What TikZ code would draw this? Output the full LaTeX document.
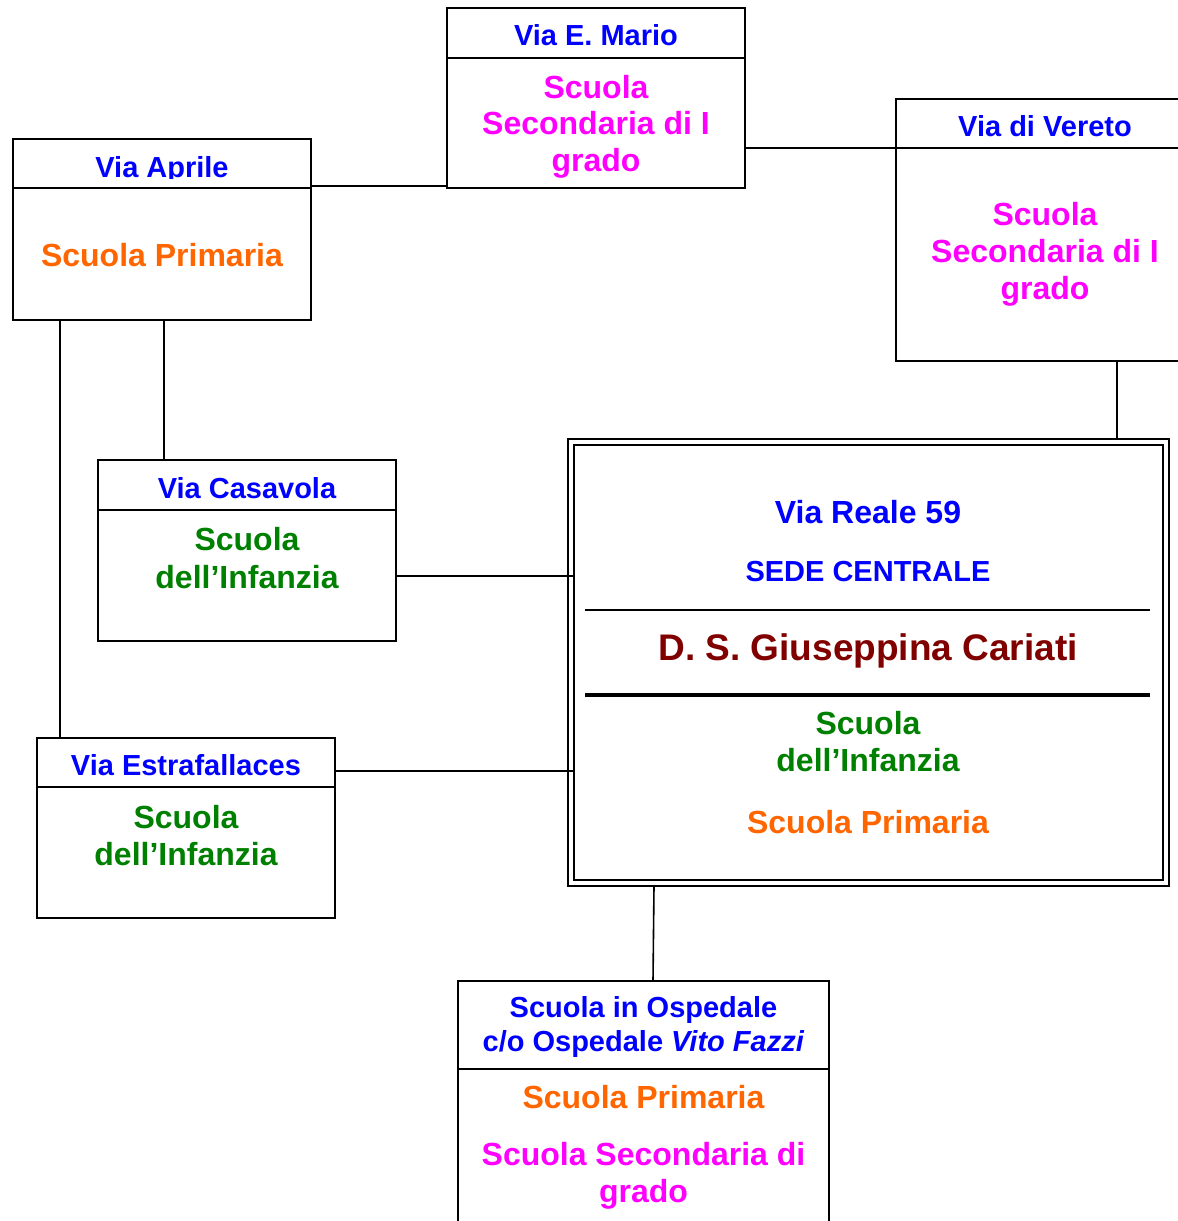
\documentclass[tikz,border=0pt]{standalone}
\usepackage{fontspec}
\setmainfont{Liberation Sans}
\definecolor{cblue}{RGB}{0,0,255}
\definecolor{cmag}{RGB}{255,0,255}
\definecolor{corange}{RGB}{255,102,0}
\definecolor{cgreen}{RGB}{0,128,0}
\definecolor{cdred}{RGB}{128,0,0}
\tikzset{
  bx/.style={draw=black, line width=1.8pt, inner sep=0pt, outer sep=0pt, anchor=north west, rectangle},
  hd/.style={anchor=base, inner sep=0pt, font=\bfseries\fontsize{29}{33}\selectfont, text=cblue},
  bd/.style={anchor=base, inner sep=0pt, font=\bfseries\fontsize{32}{37}\selectfont},
  conn/.style={line width=1.6pt},
}
\begin{document}
\begin{tikzpicture}[x=1pt,y=-1pt]
\useasboundingbox (0,0) rectangle (1178,1221);
\clip (0,0) rectangle (1178,1221);
\fill[white] (0,0) rectangle (1178,1221);

% Via E. Mario
\node[bx, minimum width=298pt, minimum height=50pt] (marioH) at (447,8) {};
\node[bx, minimum width=298pt, minimum height=130pt] (marioB) at (447,58) {};
\node[hd] (marioT) at (596,45) {Via E. Mario};
\node[bd, text=cmag] (marioL1) at (596,98) {Scuola};
\node[bd, text=cmag] (marioL2) at (596,134.5) {Secondaria di I};
\node[bd, text=cmag] (marioL3) at (596,171) {grado};

% Via Aprile
\node[bx, minimum width=298pt, minimum height=49pt] (aprileH) at (13,139) {};
\node[bx, minimum width=298pt, minimum height=132pt] (aprileB) at (13,188) {};
\begin{scope}
\clip (13,139) rectangle (311,178);
\node[hd] (aprileT) at (162,177) {Via Aprile};
\end{scope}
\node[bd, text=corange] (aprileL1) at (162,266) {Scuola Primaria};

% Via di Vereto
\node[bx, minimum width=298pt, minimum height=49pt] (veretoH) at (896,99) {};
\node[bx, minimum width=298pt, minimum height=213pt] (veretoB) at (896,148) {};
\node[hd] (veretoT) at (1045,136) {Via di Vereto};
\node[bd, text=cmag] (veretoL1) at (1045,225) {Scuola};
\node[bd, text=cmag] (veretoL2) at (1045,262) {Secondaria di I};
\node[bd, text=cmag] (veretoL3) at (1045,299) {grado};

% Via Casavola
\node[bx, minimum width=298pt, minimum height=50pt] (casaH) at (98,460) {};
\node[bx, minimum width=298pt, minimum height=131pt] (casaB) at (98,510) {};
\node[hd] (casaT) at (247,498) {Via Casavola};
\node[bd, text=cgreen] (casaL1) at (247,550) {Scuola};
\node[bd, text=cgreen] (casaL2) at (247,588) {dell’Infanzia};

% Via Estrafallaces
\node[bx, minimum width=298pt, minimum height=49pt] (estraH) at (37,738) {};
\node[bx, minimum width=298pt, minimum height=131pt] (estraB) at (37,787) {};
\node[hd] (estraT) at (186,775) {Via Estrafallaces};
\node[bd, text=cgreen] (estraL1) at (186,828) {Scuola};
\node[bd, text=cgreen] (estraL2) at (186,865) {dell’Infanzia};

% Central
\node[bx, line width=1.6pt, minimum width=601pt, minimum height=447pt] (centO) at (568,439) {};
\node[bx, line width=1.6pt, minimum width=589pt, minimum height=435pt] (centI) at (574,445) {};
\node[bd, text=cblue] (centL1) at (868,523) {Via Reale 59};
\node[hd] (centL2) at (868,581) {SEDE CENTRALE};
\draw[line width=1.4pt] (585,610) -- (1150,610);
\node[anchor=base, inner sep=0pt, font=\bfseries\fontsize{37}{42}\selectfont, text=cdred] (centL3) at (868,660) {D. S. Giuseppina Cariati};
\draw[line width=3.8pt] (585,695) -- (1150,695);
\node[bd, text=cgreen] (centL4) at (868,734) {Scuola};
\node[bd, text=cgreen] (centL5) at (868,771) {dell’Infanzia};
\node[bd, text=corange] (centL6) at (868,833) {Scuola Primaria};

% Ospedale
\node[bx, minimum width=371pt, minimum height=88pt] (ospH) at (458,981) {};
\node[bx, minimum width=371pt, minimum height=170pt] (ospB) at (458,1069) {};
\node[hd] (ospT1) at (643.5,1017) {Scuola in Ospedale};
\node[hd] (ospT2) at (643.5,1051) {c/o Ospedale \textit{Vito Fazzi}};
\node[bd, text=corange] (ospL1) at (643.5,1108) {Scuola Primaria};
\node[bd, text=cmag] (ospL2) at (643.5,1165) {Scuola Secondaria di};
\node[bd, text=cmag] (ospL3) at (643.5,1202) {grado};

% Connectors
\draw[conn] ([yshift=2pt]aprileH.south east) -- ([yshift=2pt]marioB.south west);
\draw[conn] (marioB.east |- veretoH.south west) -- (veretoH.south west);
\draw[conn] ([xshift=221pt]veretoB.south west) -- ([xshift=221pt]veretoB.south west |- centO.north);
\draw[conn] ([xshift=151pt]aprileB.south west) -- ([xshift=151pt]aprileB.south west |- casaH.north);
\draw[conn] ([xshift=47pt]aprileB.south west) -- ([xshift=47pt]aprileB.south west |- estraH.north);
\coordinate (c1) at (0,576);
\coordinate (c2) at (0,771);
\draw[conn] (casaB.east |- c1) -- (centI.west |- c1);
\draw[conn] (estraB.east |- c2) -- (centI.west |- c2);
\draw[conn] ([xshift=86pt]centO.south west) -- ([xshift=195pt]ospH.north west);
\end{tikzpicture}
\end{document}
